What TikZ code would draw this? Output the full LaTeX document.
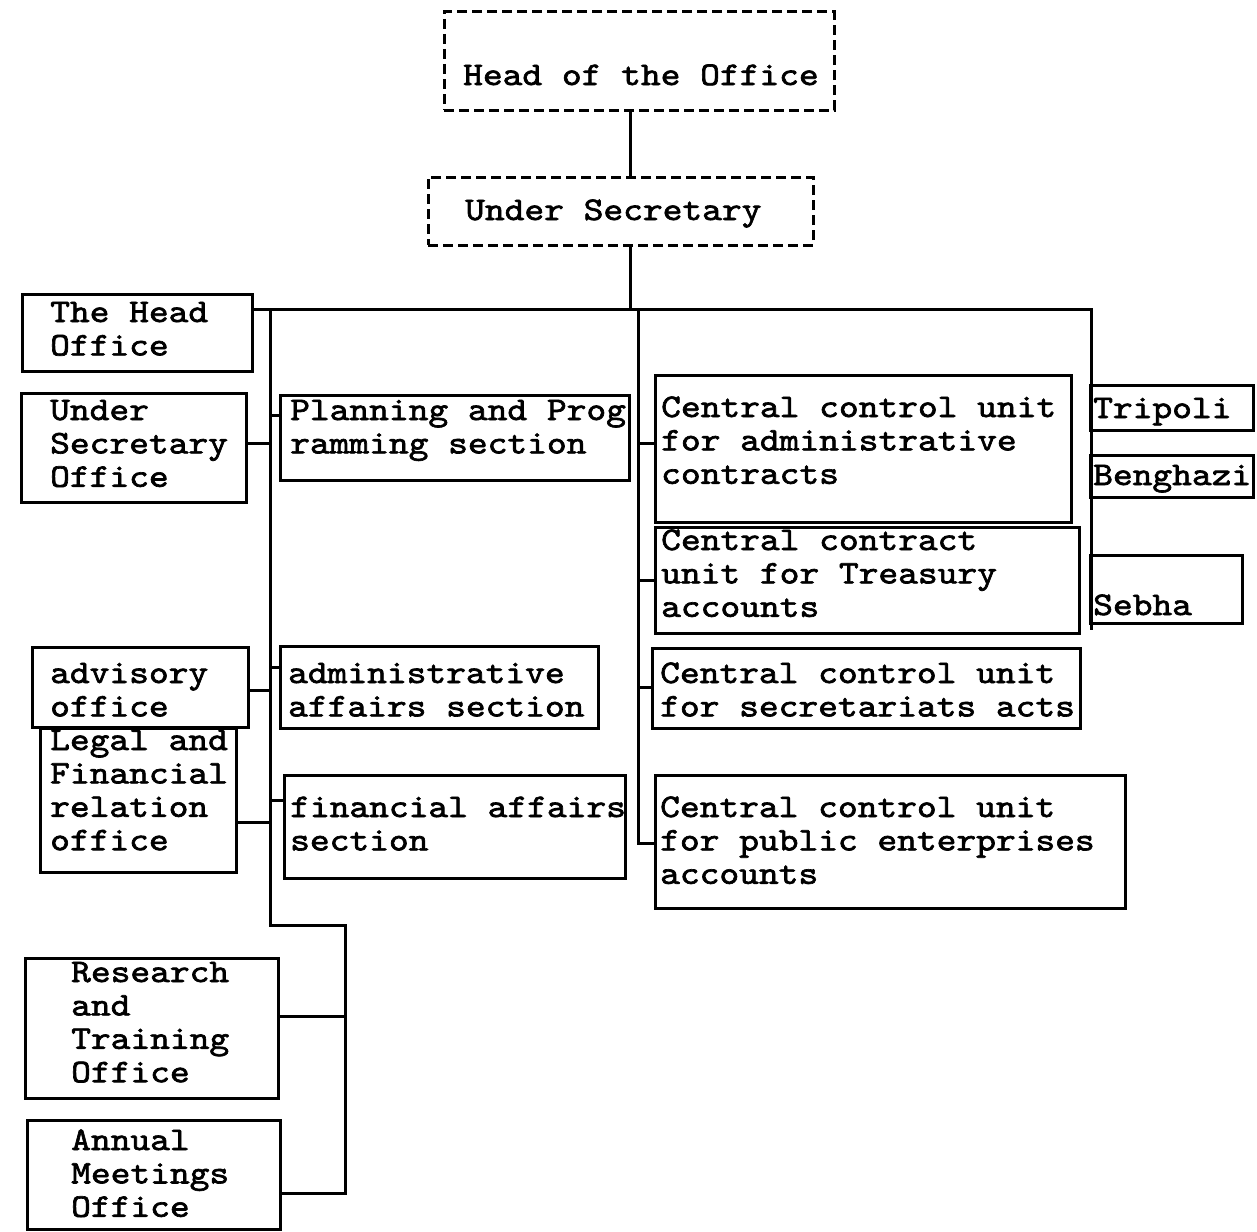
\documentclass[tikz,border=0pt]{standalone}
\usepackage{fontspec}
\usetikzlibrary{fit}
\newfontfamily\typ{lmmono10-regular.otf}[FakeStretch=1.14,FakeBold=2]
\begin{document}
\begin{tikzpicture}[x=1pt,y=-1pt,
  box/.style={draw, line width=3pt, inner sep=0pt},
  dbox/.style={box, dash pattern=on 10pt off 5pt},
  txt/.style={anchor=base west, inner sep=0pt, align=left, font=\typ\fontsize{33}{33.4}\selectfont},
  conn/.style={line width=3pt}]
\useasboundingbox (0,0) rectangle (1257,1231);
% boxes
\node[dbox, fit={(444,12) (834,110)}] (head) {};
\node[dbox, fit={(428,177) (813,245)}] (usec) {};
\node[box, fit={(22,294) (252,371)}] (hoff) {};
\node[box, fit={(21,393) (246,502)}] (uso) {};
\node[box, fit={(32,647) (248,727)}] (adv) {};
\node[box, fit={(40,728) (236,872)}] (legal) {};
\node[box, fit={(25,958) (278,1098)}] (res) {};
\node[box, fit={(27,1120) (280,1229)}] (ann) {};
\node[box, fit={(280,395) (629,480)}] (plan) {};
\node[box, fit={(280,646) (598,728)}] (admin) {};
\node[box, fit={(284,775) (625,878)}] (fin) {};
\node[box, fit={(655,375) (1071,522)}] (cadm) {};
\node[box, fit={(655,527) (1079,633)}] (ctre) {};
\node[box, fit={(652,648) (1080,728)}] (csec) {};
\node[box, fit={(655,775) (1125,908)}] (cpub) {};
\node[box, fit={(1090,385) (1253,430)}] (trip) {};
\node[box, fit={(1090,455) (1253,497)}] (beng) {};
\node[box, fit={(1090,555) (1242,623)}] (sebha) {};
% texts (anchor = baseline of last line)
\node[txt] (thead) at (463,85) {Head of the Office};
\node[txt] (tusec) at (465,220) {Under Secretary};
\node[txt] (thoff) at (50,355.4) {The Head\\Office};
\node[txt] (tuso) at (50,486.8) {Under\\Secretary\\Office};
\node[txt] (tadv) at (50,716.4) {advisory\\office};
\node[txt] (tlegal) at (50,850.2) {Legal and\\Financial\\relation\\office};
\node[txt] (tres) at (71,1082.2) {Research\\and\\Training\\Office};
\node[txt] (tann) at (71,1216.8) {Annual\\Meetings\\Office};
\node[txt] (tplan) at (290,453.4) {Planning and Prog\\ramming section};
\node[txt] (tadmin) at (288,716.4) {administrative\\affairs section};
\node[txt] (tfin) at (290,850.4) {financial affairs\\section};
\node[txt] (tcadm) at (661,483.8) {Central control unit\\for administrative\\contracts};
\node[txt] (tctre) at (661,616.8) {Central contract\\unit for Treasury\\accounts};
\node[txt] (tcsec) at (660,716.4) {Central control unit\\for secretariats acts};
\node[txt] (tcpub) at (660,883.8) {Central control unit\\for public enterprises\\accounts};
\node[txt] (ttrip) at (1093,418) {Tripoli};
\node[txt] (tbeng) at (1093,485) {Benghazi};
\node[txt] (tsebha) at (1093,615) {Sebha};
% bus coordinates
\coordinate (lt) at (270,309);
\coordinate (lb) at (270,925);
\coordinate (ll) at (345,925);
\coordinate (llb) at (345,1193);
\coordinate (mt) at (638,309);
\coordinate (mb) at (638,843);
\coordinate (rt) at (1091,309);
\coordinate (rb) at (1091,630);
% connectors
\draw[conn] (head.south -| 630,0) -- (usec.north -| 630,0);
\draw[conn] (usec.south -| 630,0) -- (630,309);
\draw[conn] (hoff.east |- lt) -- (rt) -- (rb);
\draw[conn] (lt) -- (lb) -- (ll) -- (llb) -- (ann.east |- llb);
\draw[conn] (mt) -- (mb) -- (cpub.west |- mb);
\draw[conn] (uso.east |- 0,443) -- (lt |- 0,443);
\draw[conn] (lt |- 0,415) -- (plan.west |- 0,415);
\draw[conn] (adv.east |- 0,690) -- (lt |- 0,690);
\draw[conn] (lt |- 0,667) -- (admin.west |- 0,667);
\draw[conn] (legal.east |- 0,822) -- (lt |- 0,822);
\draw[conn] (lt |- 0,800) -- (fin.west |- 0,800);
\draw[conn] (res.east |- 0,1016) -- (ll |- 0,1016);
\draw[conn] (mt |- 0,443) -- (cadm.west |- 0,443);
\draw[conn] (mt |- 0,580) -- (ctre.west |- 0,580);
\draw[conn] (mt |- 0,687) -- (csec.west |- 0,687);
\end{tikzpicture}
\end{document}
